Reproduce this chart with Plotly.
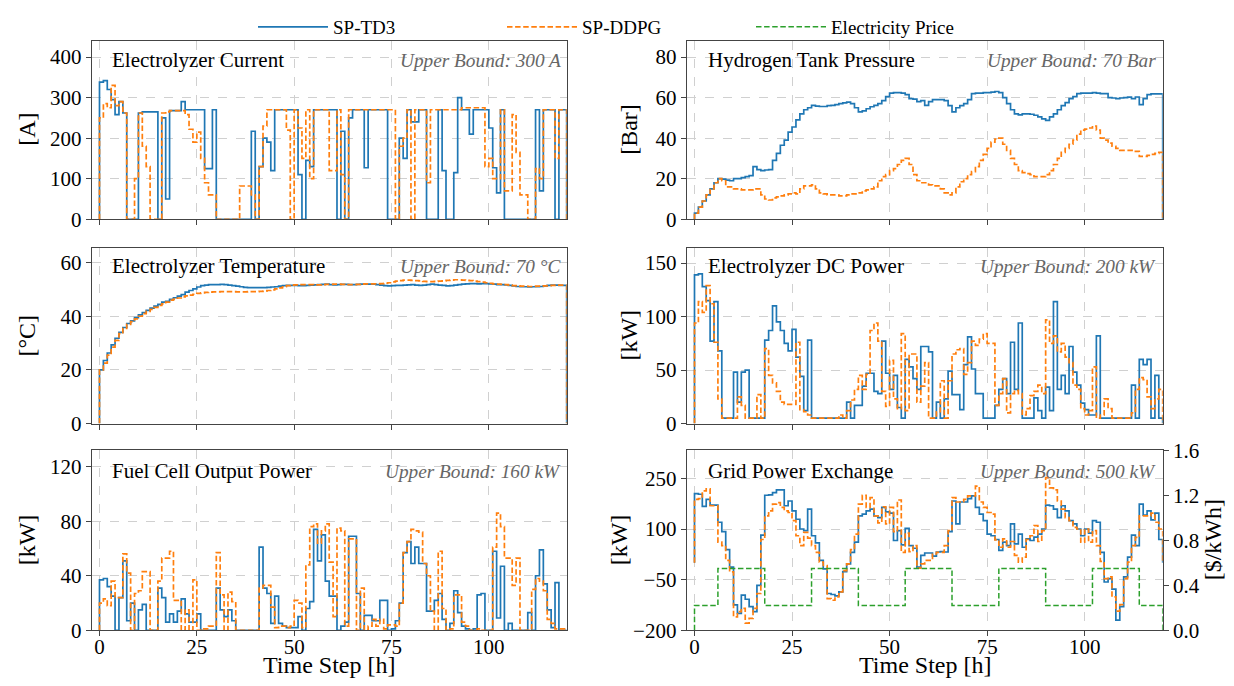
import plotly.graph_objects as go

# ---------------- data ----------------
steps = list(range(120))
x_ticks = [0, 25, 50, 75, 100]

cur_td3 = [338, 342, 320, 295, 258, 290, 262, 0, 0, 0,
           262, 265, 265, 265, 265, 0, 250, 50, 268, 268,
           268, 290, 270, 270, 270, 270, 270, 125, 125, 270,
           0, 0, 0, 0, 0, 0, 0, 0, 0, 217,
           0, 130, 200, 190, 120, 270, 270, 270, 270, 270,
           270, 110, 0, 145, 130, 270, 270, 270, 270, 270,
           270, 0, 217, 0, 250, 270, 270, 270, 127, 270,
           270, 270, 270, 270, 0, 0, 0, 200, 150, 270,
           240, 240, 270, 270, 0, 0, 0, 270, 120, 0,
           0, 115, 300, 270, 270, 210, 270, 270, 270, 270,
           225, 127, 65, 270, 0, 0, 0, 0, 0, 0,
           0, 0, 270, 70, 270, 270, 270, 0, 270, 270]
cur_ddpg = [250, 285, 275, 330, 280, 290, 262, 0, 0, 100,
            262, 180, 130, 0, 0, 0, 262, 265, 268, 268,
            268, 268, 258, 222, 190, 215, 150, 90, 60, 60,
            0, 0, 0, 0, 0, 0, 82, 82, 82, 60,
            0, 130, 230, 270, 270, 270, 270, 270, 220, 0,
            270, 225, 150, 270, 100, 270, 270, 270, 270, 120,
            120, 270, 110, 0, 270, 270, 270, 270, 270, 270,
            270, 270, 270, 270, 270, 270, 0, 180, 200, 270,
            0, 270, 270, 270, 90, 270, 270, 270, 270, 270,
            270, 270, 270, 275, 275, 275, 275, 275, 275, 130,
            150, 100, 100, 270, 70, 70, 258, 165, 60, 60,
            0, 0, 125, 100, 270, 270, 270, 150, 270, 270]

pres_td3 = [3, 6, 9, 12, 15, 18, 20, 19.8, 19.3, 19,
            20, 20, 20.5, 21, 21.5, 26, 24.5, 24, 24.3, 24.5,
            29, 32.5, 36.5, 39, 43, 45.5, 49, 52, 54, 55,
            56.2, 55.8, 55.6, 55.6, 56, 56.2, 56.5, 57, 57.4, 57.8,
            57, 55, 53, 53.5, 54.5, 55.5, 56.2, 57, 58.5, 60.5,
            62.2, 62.5, 62.5, 62.2, 61.5, 59.5, 59.2, 58, 58.5, 56.2,
            58, 59, 59, 59, 58.5, 56, 53, 55, 56, 57,
            59, 62, 62.2, 62.2, 62.5, 62.5, 62.7, 63, 62.5, 60,
            57, 54, 52, 51.5, 52, 52, 51.8, 51.3, 50.5, 49.5,
            48.8, 50.5, 52, 54, 56, 57.5, 59.5, 60.5, 62, 62.2,
            62.2, 62.2, 62.5, 62.2, 62, 62, 60, 59.8, 59.5, 59.8,
            60, 60.2, 59.5, 60.3, 56.5, 59.5, 61.5, 61.8, 61.8, 61.8]
pres_ddpg = [3, 6, 9, 12, 15, 18, 20, 19, 16, 16,
             15, 15, 14.5, 14.5, 14.5, 15, 15, 12, 10, 9.5,
             10.5, 11, 11.5, 12, 12.5, 13, 12.5, 15, 16.5, 16.5,
             17, 15, 13, 12.5, 12, 12, 12, 11.5, 11.5, 12,
             12.5, 12.5, 13, 14, 14.5, 15, 16, 19, 21, 22,
             24, 25, 27, 29, 30, 27, 22, 19, 18, 18,
             17, 16.5, 16.5, 15, 13, 12, 13, 16, 18.5, 20,
             22, 23.5, 26, 29, 32, 35, 38, 39.5, 40, 37,
             34, 30, 27, 24, 23, 22.5, 22, 21, 21, 21,
             22, 24, 27, 30, 33, 35, 37, 39, 42, 44,
             44.5, 45, 46, 44, 40, 39, 37.5, 36, 35, 34,
             34, 34, 34, 33.5, 31, 31, 31.5, 32, 32.5, 33]

temp_td3 = [20, 23.5, 26.3, 29.3, 31.8, 34, 35.8, 37.3, 38.3, 39.5,
            40.5, 41.4, 42.2, 43, 43.8, 44.4, 45.3, 45.6, 46.3, 46.9,
            47.5, 48.1, 49, 49.6, 50.2, 50.9, 51.4, 51.6, 51.8, 51.8,
            51.8, 51.9, 51.8, 51.6, 51.4, 51.2, 51.0, 50.8, 50.7, 50.7,
            50.7, 50.7, 50.7, 50.8, 50.9, 51.0, 51.2, 51.4, 51.5, 51.5,
            51.5, 51.4, 51.4, 51.5, 51.6, 51.7, 51.8, 51.9, 52.0, 51.8,
            51.7, 51.8, 51.9, 51.9, 51.8, 51.8, 51.9, 52.0, 52.0, 52.0,
            52.0, 51.8, 51.6, 51.4, 51.3, 51.4, 51.5, 51.5, 51.6, 51.7,
            51.8, 51.6, 51.5, 51.6, 51.8, 52.0, 51.8, 51.6, 51.5, 51.3,
            51.4, 51.6, 51.8, 52.0, 52.1, 52.2, 52.2, 52.1, 52.2, 52.2,
            52.1, 52.0, 51.8, 51.8, 51.7, 51.5, 51.3, 51.1, 51.0, 51.0,
            50.9, 51.0, 51.0, 51.1, 51.3, 51.5, 51.6, 51.6, 51.5, 51.5]
temp_ddpg = [20, 22.5, 25.5, 28.5, 31, 33.5, 35.5, 37, 38, 39,
             40, 41, 41.8, 42.6, 43.3, 44, 44.6, 45.3, 46, 46.4,
             46.8, 47.2, 47.6, 47.9, 48.2, 48.5, 48.7, 48.9, 49.0, 49.1,
             49.1, 49.2, 49.2, 49.2, 49.2, 49.1, 49.1, 49.1, 49.2, 49.2,
             49.2, 49.3, 49.4, 49.6, 49.8, 50.2, 50.6, 51.0, 51.4, 51.6,
             51.7, 51.8, 51.8, 51.8, 51.8, 51.7, 51.7, 51.8, 51.9, 51.9,
             52.0, 52.0, 51.9, 51.8, 51.8, 51.8, 51.9, 52.0, 52.1, 52.1,
             52.1, 52.1, 52.2, 52.3, 52.5, 52.8, 53.1, 53.3, 53.5, 53.5,
             53.4, 53.3, 53.2, 53.0, 52.9, 52.9, 53.0, 53.1, 53.2, 53.4,
             53.5, 53.6, 53.6, 53.5, 53.4, 53.3, 53.1, 52.9, 52.7, 52.5,
             52.3, 52.1, 52.0, 51.9, 51.8, 51.6, 51.4, 51.3, 51.2, 51.2,
             51.1, 51.1, 51.2, 51.2, 51.3, 51.4, 51.5, 51.6, 51.6, 51.6]

dc_td3 = [139, 140, 128, 115, 77, 114, 68, 5, 5, 5,
          48, 20, 48, 50, 5, 5, 5, 5, 78, 87,
          110, 95, 87, 75, 68, 88, 62, 44, 12, 78,
          5, 5, 5, 5, 5, 5, 5, 5, 5, 20,
          5, 17, 17, 35, 47, 47, 30, 28, 77, 47,
          32, 45, 15, 5, 60, 53, 42, 32, 72, 72,
          67, 5, 20, 5, 23, 49, 27, 27, 13, 55,
          81, 51, 28, 28, 5, 5, 5, 17, 32, 42,
          28, 76, 32, 94, 5, 5, 5, 24, 12, 5,
          34, 12, 114, 32, 45, 28, 72, 48, 36, 19,
          13, 8, 8, 82, 5, 5, 5, 5, 5, 5,
          5, 5, 36, 5, 60, 55, 60, 5, 45, 5]
dc_ddpg = [94, 114, 104, 129, 112, 76, 23, 5, 5, 5,
           5, 25, 17, 5, 5, 5, 27, 5, 70, 45,
           38, 30, 20, 18, 18, 18, 76, 13, 11, 8,
           5, 5, 5, 5, 5, 5, 5, 8, 5, 12,
           22, 32, 45, 32, 46, 87, 94, 77, 30, 16,
           59, 23, 14, 84, 12, 65, 65, 20, 35, 57,
           5, 5, 11, 40, 5, 40, 65, 69, 70, 46,
           57, 77, 73, 79, 84, 75, 75, 17, 28, 42,
           10, 28, 31, 28, 8, 14, 26, 30, 36, 28,
           97, 75, 82, 67, 75, 62, 57, 36, 32, 14,
           8, 12, 53, 5, 8, 23, 14, 5, 5, 5,
           5, 5, 10, 32, 43, 41, 25, 14, 23, 32]

fc_td3 = [37, 38, 32, 25, 0, 24, 51, 7, 20, 0,
          15, 19, 0, 0, 0, 31, 24, 6, 12, 6,
          14, 23, 12, 6, 6, 12, 0, 0, 0, 0,
          31, 15, 10, 15, 7, 0, 0, 0, 0, 0,
          0, 61, 31, 27, 5, 25, 5, 3, 2, 2,
          2, 10, 0, 16, 21, 74, 51, 70, 36, 25,
          25, 0, 3, 6, 69, 69, 27, 0, 11, 11,
          7, 7, 22, 22, 0, 1, 7, 20, 57, 65,
          49, 61, 49, 49, 14, 14, 22, 27, 8, 0,
          5, 29, 13, 3, 1, 0, 1, 26, 27, 0,
          0, 58, 9, 47, 0, 5, 0, 0, 0, 0,
          13, 0, 40, 59, 34, 15, 2, 35, 0, 0]
fc_ddpg = [20, 23, 18, 36, 24, 24, 56, 42, 0, 27,
           29, 43, 43, 0, 0, 36, 53, 53, 58, 22,
           22, 0, 15, 0, 37, 0, 1, 1, 3, 3,
           57, 26, 0, 28, 21, 0, 0, 0, 0, 0,
           0, 31, 33, 33, 17, 2, 3, 3, 2, 3,
           22, 20, 2, 48, 76, 78, 64, 73, 78, 50,
           10, 75, 73, 3, 67, 67, 0, 31, 0, 3,
           8, 3, 8, 1, 4, 4, 3, 20, 57, 65,
           74, 73, 72, 49, 40, 14, 0, 58, 16, 0,
           1, 26, 26, 6, 3, 0, 0, 1, 0, 0,
           0, 61, 86, 76, 53, 53, 33, 53, 0, 0,
           0, 30, 38, 36, 29, 8, 5, 1, 1, 1]

grid_td3 = [205, 203, 167, 188, 171, 171, 120, 92, 39, -13,
            -125, -150, -96, -108, -130, -145, -67, 82, 200, 201,
            208, 216, 216, 169, 183, 154, 129, 100, 95, 159,
            80, 59, 7, -18, -91, -94, -98, -86, -26, -3,
            31, 61, 139, 144, 154, 159, 139, 134, 164, 151,
            147, 66, 95, 53, 102, 51, 43, -13, 22, 29,
            29, 20, 32, 33, 32, 92, 183, 115, 180, 180,
            190, 198, 164, 144, 125, 85, 80, 69, 37, 61,
            51, 115, 56, 85, 46, 71, 66, 76, 85, 100,
            171, 169, 159, 134, 169, 154, 125, 115, 100, 80,
            100, 88, 125, 120, 31, -57, -47, -78, -170, -130,
            -42, 17, 82, 51, 174, 141, 154, 127, 147, 69]
grid_ddpg = [188, 190, 213, 219, 169, 169, 61, 51, 7, -27,
             -160, -145, -135, -179, -165, -135, -91, 69, 139, 154,
             174, 178, 164, 154, 149, 125, 80, 51, 90, 73,
             51, 31, 2, -8, -106, -111, -101, -86, -23, -3,
             39, 85, 174, 200, 164, 193, 139, 118, 166, 115,
             164, 92, 186, 31, 88, 33, 51, -16, -3, 7,
             7, 26, 31, 31, 51, 95, 193, 180, 180, 188,
             198, 198, 227, 180, 164, 149, 144, 68, 46, 71,
             46, 63, 22, 2, 17, 69, 80, 110, 63, 95,
             252, 222, 216, 183, 159, 134, 125, 105, 100, 61,
             100, 61, 95, 51, 4, -47, -42, -101, -143, -124,
             -47, 2, 51, 75, 139, 139, 139, 147, 120, 100]

price = [0.22, 0.22, 0.22, 0.22, 0.22, 0.22, 0.55, 0.55, 0.55, 0.55,
         0.55, 0.55, 0.55, 0.55, 0.55, 0.55, 0.55, 0.55, 0.22, 0.22,
         0.22, 0.22, 0.22, 0.22, 0.22, 0.22, 0.22, 0.22, 0.22, 0.22,
         0.55, 0.55, 0.55, 0.55, 0.55, 0.55, 0.55, 0.55, 0.55, 0.55,
         0.55, 0.55, 0.22, 0.22, 0.22, 0.22, 0.22, 0.22, 0.22, 0.22,
         0.22, 0.22, 0.22, 0.22, 0.55, 0.55, 0.55, 0.55, 0.55, 0.55,
         0.55, 0.55, 0.55, 0.55, 0.55, 0.55, 0.22, 0.22, 0.22, 0.22,
         0.22, 0.22, 0.22, 0.22, 0.22, 0.22, 0.22, 0.22, 0.55, 0.55,
         0.55, 0.55, 0.55, 0.55, 0.55, 0.55, 0.55, 0.55, 0.55, 0.55,
         0.22, 0.22, 0.22, 0.22, 0.22, 0.22, 0.22, 0.22, 0.22, 0.22,
         0.22, 0.22, 0.55, 0.55, 0.55, 0.55, 0.55, 0.55, 0.55, 0.55,
         0.55, 0.55, 0.55, 0.55, 0.22, 0.22, 0.22, 0.22, 0.22, 0.22]

panel_titles = ["Electrolyzer Current", "Hydrogen Tank Pressure",
                "Electrolyzer Temperature", "Electrolyzer DC Power",
                "Fuel Cell Output Power", "Grid Power Exchange"]
bound_texts = ["Upper Bound: 300 A", "Upper Bound: 70 Bar",
               "Upper Bound: 70 °C", "Upper Bound: 200 kW",
               "Upper Bound: 160 kW", "Upper Bound: 500 kW"]
y_titles = ["[A]", "[Bar]", "[°C]", "[kW]", "[kW]", "[kW]"]
y_ticks = [[0, 100, 200, 300, 400], [0, 20, 40, 60, 80], [0, 20, 40, 60],
           [0, 50, 100, 150], [0, 40, 80, 120], [-200, -50, 100, 250]]
y_ranges = [[0, 440], [0, 88], [0, 65.6], [0, 164.5], [0, 132], [-200, 333]]
price_ticks = [0.0, 0.4, 0.8, 1.2, 1.6]

# ---------------- styling ----------------
FONT = "Liberation Serif, Times New Roman, serif"
BLUE, ORANGE, GREEN = "#1f77b4", "#ff7f0e", "#2ca02c"
PAGE_OFF = 8            # default page body margin
W, H = 1234 - 2 * PAGE_OFF, 686 - 2 * PAGE_OFF


def PX(px):
    return (px - PAGE_OFF) / W


def PY(py):
    return 1 - (py - PAGE_OFF) / H


XL = [PX(91.7), PX(566.7)]
XR = [PX(686.7), PX(1162.7)]
ROWS = [[PY(216.5), PY(37)], [PY(422), PY(245)], [PY(630), PY(449)]]


def stairs(vals):
    n = len(vals)
    xs = [0] + steps + [n, n]
    ys = [0] + list(vals) + [vals[-1], 0]
    return xs, ys


fig = go.Figure()
series = [(cur_td3, cur_ddpg), (pres_td3, pres_ddpg), (temp_td3, temp_ddpg),
          (dc_td3, dc_ddpg), (fc_td3, fc_ddpg), (grid_td3, grid_ddpg)]

for i, (a, b) in enumerate(series):
    ax = "" if i == 0 else str(i + 1)
    xa, ya = stairs(a)
    xb, yb = stairs(b)
    fig.add_trace(go.Scatter(x=xa, y=ya, mode="lines", line_shape="hv",
                             line=dict(color=BLUE, width=1.7), name="SP-TD3",
                             showlegend=(i == 0), xaxis="x" + ax, yaxis="y" + ax))
    fig.add_trace(go.Scatter(x=xb, y=yb, mode="lines", line_shape="hv",
                             line=dict(color=ORANGE, width=1.7, dash="5.5px,2.6px"),
                             name="SP-DDPG", showlegend=(i == 0),
                             xaxis="x" + ax, yaxis="y" + ax))

xp, yp = stairs(price)
fig.add_trace(go.Scatter(x=xp, y=yp, mode="lines", line_shape="hv",
                         line=dict(color=GREEN, width=1.5, dash="5.5px,2.6px"),
                         name="Electricity Price", xaxis="x6", yaxis="y7"))

axis_common = dict(showline=True, mirror=True, linecolor="#444", linewidth=1.2,
                   ticks="outside", ticklen=5, tickwidth=1.2, tickcolor="#444",
                   showgrid=True, gridcolor="#d0d0d0", griddash="dash", gridwidth=0.8,
                   zeroline=False, tickfont=dict(family=FONT, size=21, color="#000"),
                   automargin=False)

layout = dict(width=W, height=H, margin=dict(l=0, r=0, t=0, b=0),
              paper_bgcolor="white", plot_bgcolor="white",
              font=dict(family=FONT, color="#000"),
              legend=dict(orientation="h", x=PX(253), xanchor="left",
                          y=PY(4), yanchor="top", itemwidth=70,
                          entrywidth=164, font=dict(family=FONT, size=19),
                          bgcolor="rgba(0,0,0,0)"))

for i in range(6):
    ax = "" if i == 0 else str(i + 1)
    col = i % 2
    row = i // 2
    layout["xaxis" + ax] = dict(axis_common, domain=XL if col == 0 else XR,
                                anchor="y" + ax, range=[-2, 120], tickvals=x_ticks,
                                showticklabels=(row == 2), ticklabelstandoff=-8)
    layout["yaxis" + ax] = dict(axis_common, domain=ROWS[row], anchor="x" + ax,
                                range=y_ranges[i], tickvals=y_ticks[i])

layout["yaxis7"] = dict(overlaying="y6", anchor="x6", side="right", range=[0, 1.6],
                        tickvals=price_ticks, tickformat=".1f", showgrid=False,
                        zeroline=False, showline=False, ticks="outside", ticklen=5,
                        tickwidth=1.2, tickcolor="#444",
                        tickfont=dict(family=FONT, size=21, color="#000"),
                        automargin=False)
fig.update_layout(**layout)

ann = []
title_x = [PX(110), PX(706)]
bound_x = [PX(562.5), PX(1157.5)]
row_text_y = [PY(56.7), PY(264), PY(470)]
ytitle_x = [[PX(27), PX(629)], [PX(27), PX(629)], [PX(27), PX(619)]]
row_center = [PY(126.5), PY(333.5), PY(539.5)]
for i in range(6):
    col, row = i % 2, i // 2
    ann.append(dict(text=panel_titles[i], x=title_x[col], y=row_text_y[row],
                    xref="paper", yref="paper", xanchor="left", yanchor="middle",
                    showarrow=False, font=dict(family=FONT, size=21, color="#000")))
    ann.append(dict(text="<i>" + bound_texts[i] + "</i>", x=bound_x[col], y=row_text_y[row],
                    xref="paper", yref="paper", xanchor="right", yanchor="middle",
                    showarrow=False, font=dict(family=FONT, size=19.3, color="#666")))
    ann.append(dict(text=y_titles[i], x=ytitle_x[row][col], y=row_center[row],
                    xref="paper", yref="paper", xanchor="center", yanchor="middle",
                    textangle=-90, showarrow=False,
                    font=dict(family=FONT, size=24, color="#000")))
for cx in [PX(329), PX(924.7)]:
    ann.append(dict(text="Time Step [h]", x=cx, y=PY(665), xref="paper", yref="paper",
                    xanchor="center", yanchor="middle", showarrow=False,
                    font=dict(family=FONT, size=24, color="#000")))
ann.append(dict(text="[$/kWh]", x=PX(1213), y=row_center[2], xref="paper", yref="paper",
                xanchor="center", yanchor="middle", textangle=-90, showarrow=False,
                font=dict(family=FONT, size=24, color="#000")))
fig.update_layout(annotations=ann)

fig.write_html("out.html")
